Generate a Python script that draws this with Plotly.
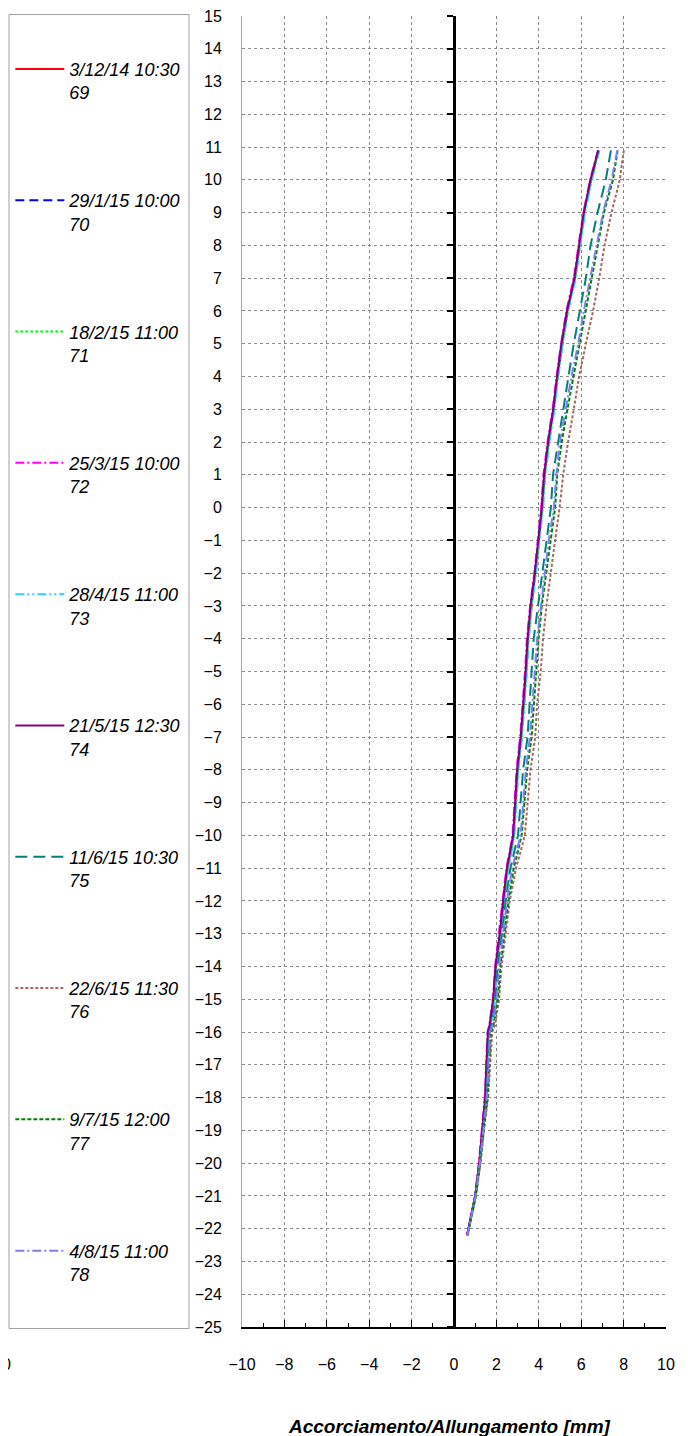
import plotly.graph_objects as go

# Depth levels (vertical axis)
depth = [10.9, 10, 9, 8, 7, 6, 5, 4, 3, 2, 1, 0, -1, -2, -3, -4, -5, -6, -7, -8, -9, -10,
         -10.5, -11, -12, -13, -14, -15, -15.8, -16, -17, -18, -19, -20, -21, -22.2]

s69 = [6.82, 6.46, 6.14, 5.92, 5.70, 5.35, 5.10, 4.88, 4.70, 4.46, 4.27, 4.16, 4.00, 3.83, 3.63, 3.49, 3.40, 3.28,
       3.17, 3.00, 2.89, 2.81, 2.67, 2.52, 2.34, 2.18, 1.98, 1.87, 1.70, 1.62, 1.55, 1.49, 1.35, 1.20, 1.01, 0.62]
s70 = [6.81, 6.45, 6.13, 5.91, 5.69, 5.34, 5.08, 4.87, 4.69, 4.45, 4.26, 4.15, 3.99, 3.82, 3.62, 3.48, 3.39, 3.27,
       3.16, 2.99, 2.88, 2.80, 2.66, 2.51, 2.33, 2.17, 1.97, 1.86, 1.69, 1.61, 1.54, 1.48, 1.34, 1.20, 1.01, 0.62]
s71 = [6.84, 6.48, 6.16, 5.94, 5.72, 5.37, 5.11, 4.90, 4.72, 4.48, 4.29, 4.18, 4.02, 3.85, 3.65, 3.51, 3.42, 3.30,
       3.19, 3.02, 2.91, 2.83, 2.69, 2.54, 2.36, 2.20, 2.00, 1.89, 1.72, 1.64, 1.57, 1.50, 1.36, 1.21, 1.02, 0.63]
s72 = [6.79, 6.42, 6.10, 5.87, 5.65, 5.30, 5.05, 4.84, 4.65, 4.41, 4.22, 4.11, 3.96, 3.79, 3.59, 3.44, 3.35, 3.23,
       3.12, 2.95, 2.84, 2.76, 2.62, 2.47, 2.29, 2.13, 1.94, 1.83, 1.66, 1.58, 1.51, 1.45, 1.31, 1.17, 0.99, 0.61]
s73 = [6.86, 6.50, 6.18, 5.96, 5.74, 5.39, 5.13, 4.92, 4.74, 4.50, 4.31, 4.20, 4.04, 3.87, 3.67, 3.53, 3.44, 3.32,
       3.21, 3.04, 2.93, 2.85, 2.71, 2.56, 2.38, 2.22, 2.02, 1.91, 1.74, 1.66, 1.58, 1.51, 1.37, 1.22, 1.02, 0.63]
s74 = [6.80, 6.44, 6.12, 5.90, 5.68, 5.33, 5.07, 4.86, 4.68, 4.44, 4.25, 4.14, 3.98, 3.81, 3.61, 3.47, 3.38, 3.26,
       3.15, 2.98, 2.87, 2.79, 2.65, 2.50, 2.32, 2.16, 1.96, 1.85, 1.68, 1.60, 1.53, 1.47, 1.33, 1.19, 1.00, 0.62]
s75 = [7.40, 7.16, 6.77, 6.44, 6.22, 5.93, 5.65, 5.40, 5.15, 4.91, 4.67, 4.57, 4.36, 4.17, 3.97, 3.76, 3.66, 3.58,
       3.47, 3.26, 3.14, 3.02, 2.84, 2.66, 2.44, 2.27, 2.06, 1.96, 1.78, 1.67, 1.59, 1.52, 1.37, 1.21, 1.01, 0.63]
s76 = [8.01, 7.82, 7.43, 7.10, 6.85, 6.56, 6.22, 5.90, 5.65, 5.38, 5.15, 4.98, 4.77, 4.57, 4.36, 4.20, 4.09, 3.92,
       3.83, 3.61, 3.47, 3.34, 3.14, 2.92, 2.63, 2.43, 2.24, 2.13, 1.93, 1.80, 1.72, 1.61, 1.41, 1.25, 1.03, 0.65]
s77 = [7.72, 7.50, 7.07, 6.78, 6.50, 6.20, 5.93, 5.62, 5.35, 5.08, 4.87, 4.77, 4.55, 4.36, 4.14, 3.99, 3.89, 3.76,
       3.66, 3.45, 3.31, 3.19, 3.01, 2.82, 2.57, 2.37, 2.18, 2.07, 1.86, 1.74, 1.67, 1.58, 1.40, 1.24, 1.03, 0.64]
s78 = [7.70, 7.43, 7.03, 6.72, 6.44, 6.12, 5.86, 5.54, 5.27, 4.99, 4.83, 4.71, 4.47, 4.28, 4.08, 3.92, 3.81, 3.70,
       3.58, 3.39, 3.26, 3.14, 2.95, 2.74, 2.50, 2.32, 2.13, 2.01, 1.82, 1.70, 1.62, 1.55, 1.38, 1.22, 1.02, 0.63]

labels = ["3/12/14 10:30", "29/1/15 10:00", "18/2/15 11:00", "25/3/15 10:00", "28/4/15 11:00",
          "21/5/15 12:30", "11/6/15 10:30", "22/6/15 11:30", "9/7/15 12:00", "4/8/15 11:00"]
ids = ["69", "70", "71", "72", "73", "74", "75", "76", "77", "78"]
series = [s69, s70, s71, s72, s73, s74, s75, s76, s77, s78]
colors = ["#FF0000", "#0000FF", "#00FF00", "#FF00FF", "#33CCFF",
          "#800080", "#008080", "#A8665E", "#008000", "#7F7FF5"]
dashes = ["solid", "9px,5px", "3px,2px", "9px,3px,2px,3px", "9px,3px,2px,3px,2px,3px",
          "solid", "12px,6px", "3px,2px", "4px,2px", "9px,3px,2px,3px"]

FONT = "Liberation Sans, Arial, sans-serif"

# figure sized to fit inside the page's default 8px body margin
W, H = 680, 1428
ML, MR, MT, MB = 234, 22, 7.5, 108.5
PW, PH = W - ML - MR, H - MT - MB   # 424 x 1312


def px_x(px):   # page pixel -> paper x
    return (px - 8 - ML) / PW


def px_y(py):   # page pixel -> paper y
    return 1 - (py - 8 - MT) / PH


fig = go.Figure()
for lab, i, s, c, d in zip(labels, ids, series, colors, dashes):
    fig.add_trace(go.Scatter(
        x=s, y=depth, mode="lines", name=f"{lab}<br>{i}",
        legendgroup="g" + i,
        line=dict(color=c, width=2, dash=d),
    ))

# empty helper trace so the vertical axis drawn at x = 0 is rendered
fig.add_trace(go.Scatter(x=[None], y=[None], yaxis="y2", showlegend=False,
                         hoverinfo="skip", mode="lines"))

fig.update_layout(
    width=W, height=H,
    margin=dict(l=ML, r=MR, t=MT, b=MB, autoexpand=False),
    paper_bgcolor="white", plot_bgcolor="white",
    font=dict(family=FONT, size=16, color="black"),
    showlegend=True,
    legend=dict(
        x=-0.5464, y=0.9735, xanchor="left", yanchor="top",
        bgcolor="rgba(0,0,0,0)", borderwidth=0,
        font=dict(family=FONT, size=18, style="italic", color="black"),
        tracegroupgap=81.5, itemwidth=49, valign="top",
    ),
    xaxis=dict(
        range=[-10, 10], dtick=2, tick0=-10,
        showgrid=True, gridcolor="#8a8a8a", griddash="dot", gridwidth=1,
        zeroline=False, showline=True, linecolor="black", linewidth=1.5,
        ticks="inside", ticklen=7, tickwidth=1, tickcolor="black",
        minor=dict(dtick=1, ticks="inside", ticklen=4, tickcolor="black", showgrid=False),
        ticklabelstandoff=22, ticklabeloverflow="allow",
        tickfont=dict(family=FONT, size=16),
    ),
    yaxis=dict(
        range=[-25, 15], dtick=1, tick0=0,
        showgrid=True, gridcolor="#8a8a8a", griddash="dot", gridwidth=1,
        zeroline=False, showline=True, linecolor="#a8a8a8", linewidth=1, ticks="",
        ticklabelstandoff=16, ticklabeloverflow="allow",
        tickfont=dict(family=FONT, size=16),
    ),
    yaxis2=dict(
        overlaying="y", anchor="free", position=0.5, side="left",
        range=[-25, 15], dtick=1, tick0=0,
        showgrid=False, zeroline=False, showticklabels=False,
        showline=True, linecolor="black", linewidth=3,
        ticks="outside", ticklen=6, tickwidth=2, tickcolor="black",
    ),
)

# Legend frame
fig.add_shape(type="rect", xref="paper", yref="paper",
              x0=px_x(9), x1=px_x(189), y0=px_y(1329), y1=px_y(14),
              line=dict(color="#A0A0A0", width=1), fillcolor="rgba(0,0,0,0)", layer="below")

fig.add_annotation(text="<b><i>Accorciamento/Allungamento [mm]</i></b>",
                   xref="paper", yref="paper", x=px_x(449), y=px_y(1427),
                   xanchor="center", yanchor="middle", showarrow=False,
                   font=dict(family=FONT, size=19, color="black"))
fig.add_annotation(text="0", xref="paper", yref="paper", x=px_x(13), y=px_y(1365),
                   xanchor="right", yanchor="middle", showarrow=False,
                   font=dict(family=FONT, size=16, color="black"))

fig.write_html("out.html")
